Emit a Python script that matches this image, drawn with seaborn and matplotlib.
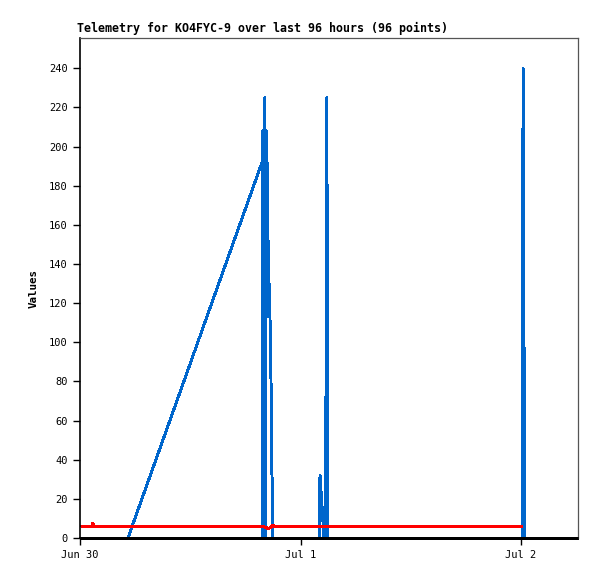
import matplotlib
matplotlib.use("Agg")
import matplotlib.pyplot as plt
import matplotlib.dates as mdates
import seaborn as sns
import pandas as pd

# ---- data (hours after Jun 30 00:00, value) ----
blue_hours = [5.22, 19.81, 19.84, 19.86, 19.95, 19.97, 20.05, 20.07, 20.13, 20.16,
              20.32, 20.39, 20.49, 20.68, 20.79, 20.82, 20.97, 21.0,
              26.05, 26.12, 26.23, 26.45, 26.5, 26.74, 26.76, 26.84, 26.87, 26.95,
              48.15, 48.22, 48.3, 48.38, 48.4]
blue_values = [0, 192, 208, 0, 104, 0, 104, 0, 225, 0,
               208, 176, 144, 112, 80, 48, 16, 0,
               0, 32, 24, 8, 0, 0, 72, 72, 225, 0,
               0, 240, 97, 97, 0]

red_hours = [0.2, 1.3, 1.4, 1.5, 19.9, 20.4, 20.6, 21.0, 21.1, 48.1]
red_values = [6, 6, 7.5, 6, 6, 5, 5, 6.5, 6, 6]

black_hours = [0.0, 54.2]
black_values = [0, 0]

y_ticks = list(range(0, 241, 20))
title = "Telemetry for KO4FYC-9 over last 96 hours (96 points)"
y_label = "Values"

base = pd.Timestamp("2024-06-30 00:00")
def to_t(hours):
    return [base + pd.Timedelta(hours=h) for h in hours]

sns.set_style("white")
plt.rcParams['font.family'] = ['DejaVu Sans Mono']
plt.rcParams['text.color'] = 'black'
plt.rcParams['axes.labelcolor'] = 'black'

fig = plt.figure(figsize=(5.97, 5.79), dpi=100)
ax = fig.add_axes([80/597, 1-538/579, 498/597, 500/579])

sns.lineplot(x=to_t(blue_hours), y=blue_values, ax=ax, color="#0066CC",
             linewidth=1.4, estimator=None, sort=False, antialiased=False)
sns.lineplot(x=to_t(red_hours), y=red_values, ax=ax, color="#FF0000",
             linewidth=1.5, estimator=None, sort=False, antialiased=False)
sns.lineplot(x=to_t(black_hours), y=black_values, ax=ax, color="black",
             linewidth=2.1, estimator=None, sort=False, clip_on=False,
             antialiased=False, solid_capstyle='butt')

ax.set_xlim(base, base + pd.Timedelta(hours=54.2))
ax.set_ylim(0, 255.5)
ax.set_yticks(y_ticks)
ax.xaxis.set_major_locator(mdates.DayLocator())
ax.xaxis.set_major_formatter(mdates.DateFormatter('%b %-d'))

for s in ['top', 'right']:
    ax.spines[s].set_color('#555555')
    ax.spines[s].set_linewidth(0.9)
for s in ['left', 'bottom']:
    ax.spines[s].set_color('black')
    ax.spines[s].set_linewidth(1.2)

ax.tick_params(axis='both', direction='out', length=5, width=1, color='black',
               labelsize=7.5, labelcolor='black', pad=4, bottom=True, left=True)

ax.set_ylabel(y_label, fontsize=7.8, fontweight='bold', labelpad=7, color='black')
ax.set_xlabel("")
ax.set_title(title, loc='left', fontsize=8.35, fontweight='bold', pad=4, x=-0.006,
             color='black')

fig.savefig("out.png", dpi=100)
